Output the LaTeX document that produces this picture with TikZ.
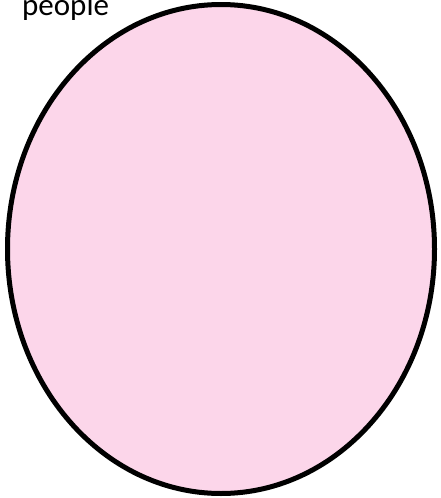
\documentclass[tikz,border=0pt]{standalone}
\usepackage{fontspec}
\setmainfont{Carlito}
\usetikzlibrary{shapes.geometric}
\definecolor{setpink}{RGB}{252,214,234}
\begin{document}
\begin{tikzpicture}[x=1pt,y=-1pt]
    \useasboundingbox (0,0) rectangle (441,498);
    \node[ellipse,draw,line width=5pt,fill=setpink,inner sep=0pt,
      minimum width=427pt,minimum height=489pt] (set) at (221,249) {};
    \node[anchor=base west,inner sep=0pt,font=\fontsize{31}{37}\selectfont]
      (setname) at (22,15) {people};
  \end{tikzpicture}
\end{document}
